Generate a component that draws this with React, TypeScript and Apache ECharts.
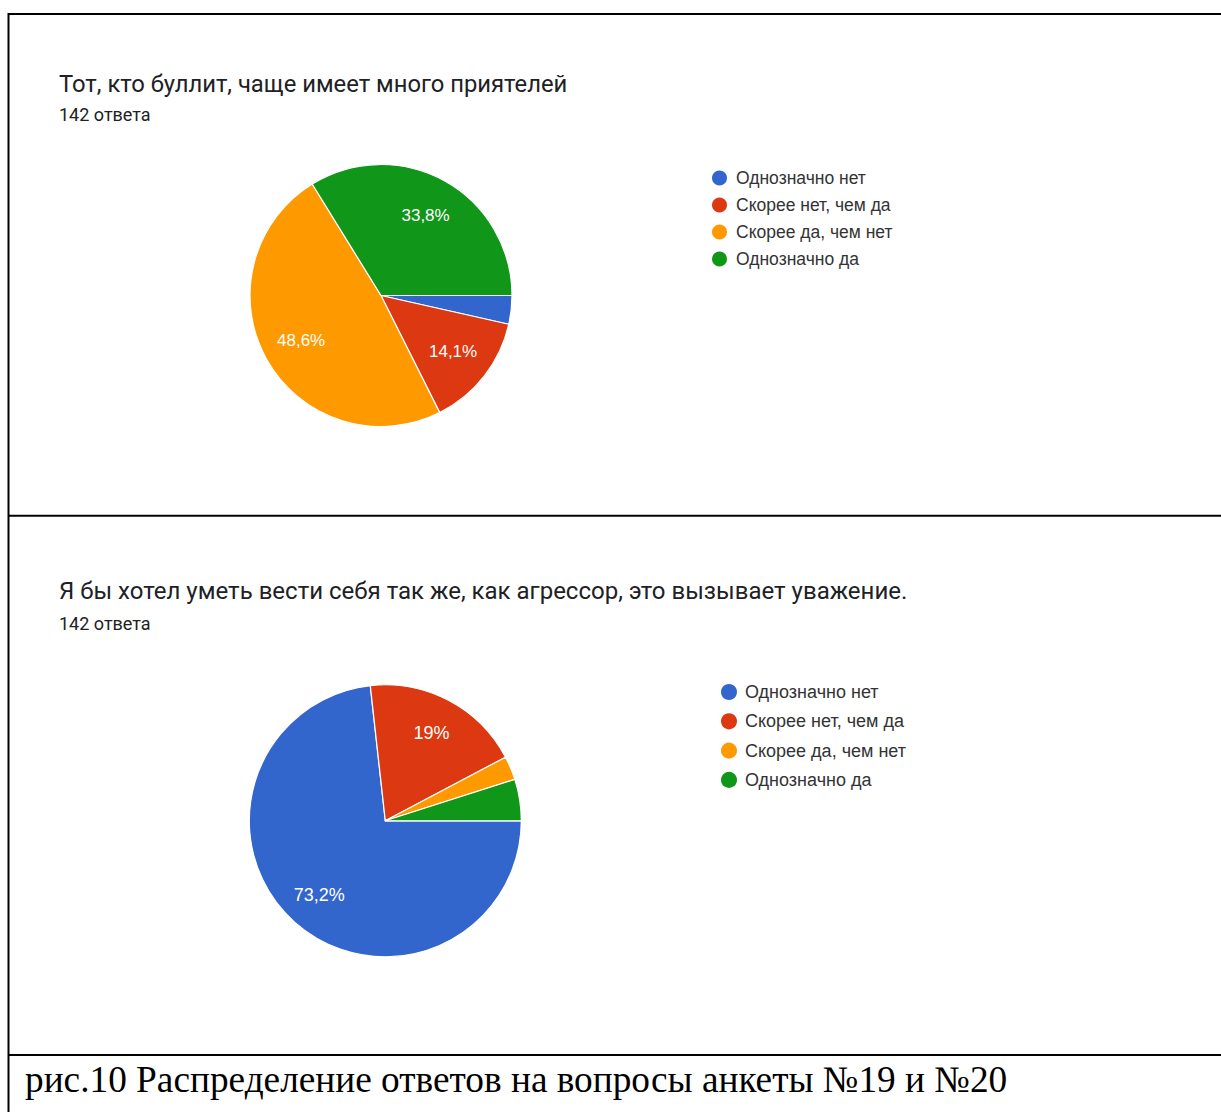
import React, { useEffect, useRef } from "react";
import * as echarts from "echarts";

const categories = ["Однозначно нет", "Скорее нет, чем да", "Скорее да, чем нет", "Однозначно да"];
const colors = ["#3366cc", "#dc3912", "#ff9900", "#109618"];
const counts1 = [5, 20, 69, 48];
const counts2 = [104, 27, 4, 7];
const title1 = "Тот, кто буллит, чаще имеет много приятелей";
const title2 = "Я бы хотел уметь вести себя так же, как агрессор, это вызывает уважение.";
const subtitle = "142 ответа";
const caption = "рис.10 Распределение ответов на вопросы анкеты №19 и №20";

const fmtPct = (v: number, total: number) => {
  const p = Math.round((v / total) * 1000) / 10;
  const s = p.toFixed(1).replace(".", ",");
  return (s.endsWith(",0") ? s.slice(0, -2) : s) + "%";
};

const chartFont = '"Liberation Sans", Arial, sans-serif';
const formsFont = "Roboto, Arial, sans-serif";

function pieSeries(counts: number[], center: number[], r: number, labelR0: number, fontSize: number) {
  const total = counts.reduce((a, b) => a + b, 0);
  const data = counts.map((v, i) => ({ name: categories[i], value: v, itemStyle: { color: colors[i] } }));
  const labelData = counts.map((v, i) => ({
    name: categories[i],
    value: v,
    itemStyle: { color: "rgba(0,0,0,0)" },
    label: { show: v / total > 0.08, formatter: fmtPct(v, total) },
  }));
  return [
    {
      type: "pie",
      center,
      radius: [0, r],
      startAngle: 0,
      clockwise: true,
      data,
      label: { show: false },
      labelLine: { show: false },
      itemStyle: { borderColor: "#ffffff", borderWidth: 1.2 },
      emphasis: { disabled: true },
    },
    {
      type: "pie",
      center,
      radius: [labelR0, r],
      startAngle: 0,
      clockwise: true,
      silent: true,
      legendHoverLink: false,
      data: labelData,
      label: {
        position: "inside",
        color: "#ffffff",
        fontSize,
        fontFamily: chartFont,
      },
      labelLine: { show: false },
      emphasis: { disabled: true },
    },
  ];
}

export default function App() {
  const ref = useRef<HTMLDivElement>(null);
  useEffect(() => {
    if (!ref.current) return;
    const chart = echarts.init(ref.current, undefined, { renderer: "svg" });
    const legendData = categories.map((n, i) => ({ name: n, itemStyle: { color: colors[i] } }));
    chart.setOption({
      animation: false,
      backgroundColor: "#ffffff",
      legend: [
        {
          orient: "vertical",
          left: 710,
          top: 168.5,
          padding: 0,
          itemWidth: 17,
          itemHeight: 17,
          itemGap: 8,
          icon: "circle",
          selectedMode: false,
          textStyle: { fontSize: 17.5, lineHeight: 17, color: "#333333", fontFamily: chartFont, padding: [0, 0, 0, 3] },
          data: legendData,
        },
        {
          orient: "vertical",
          left: 719,
          top: 682,
          padding: 0,
          itemWidth: 18,
          itemHeight: 18,
          itemGap: 9.3,
          icon: "circle",
          selectedMode: false,
          textStyle: { fontSize: 18, lineHeight: 18, color: "#333333", fontFamily: chartFont, padding: [0, 0, 0, 2] },
          data: legendData,
        },
      ],
      series: [
        ...pieSeries(counts1, [381, 295.5], 131, 46, 17),
        ...pieSeries(counts2, [385.3, 820.8], 136, 56, 18),
      ],
      graphic: [
        { type: "line", shape: { x1: 8, y1: 14, x2: 1221, y2: 14 }, style: { stroke: "#000", lineWidth: 2 } },
        { type: "line", shape: { x1: 8.5, y1: 13, x2: 8.5, y2: 1112 }, style: { stroke: "#000", lineWidth: 2 } },
        { type: "line", shape: { x1: 8, y1: 515.7, x2: 1221, y2: 515.7 }, style: { stroke: "#000", lineWidth: 2 } },
        { type: "line", shape: { x1: 8, y1: 1055, x2: 1221, y2: 1055 }, style: { stroke: "#000", lineWidth: 2 } },
        {
          type: "text",
          x: 59,
          y: 84,
          style: { text: title1, font: `23.8px ${formsFont}`, fill: "#202124", textVerticalAlign: "middle" },
        },
        {
          type: "text",
          x: 59,
          y: 114,
          style: { text: subtitle, font: `18px ${formsFont}`, fill: "#202124", textVerticalAlign: "middle" },
        },
        {
          type: "text",
          x: 59,
          y: 591,
          style: { text: title2, font: `24px ${formsFont}`, fill: "#202124", textVerticalAlign: "middle" },
        },
        {
          type: "text",
          x: 59,
          y: 623,
          style: { text: subtitle, font: `18px ${formsFont}`, fill: "#202124", textVerticalAlign: "middle" },
        },
        {
          type: "text",
          x: 25,
          y: 1079,
          style: { text: caption, font: `37.3px "Liberation Serif", "Times New Roman", serif`, fill: "#000", textVerticalAlign: "middle" },
        },
      ],
    });
    return () => chart.dispose();
  }, []);
  return <div ref={ref} style={{ position: "absolute", left: 0, top: 0, width: 1221, height: 1112 }} />;
}
